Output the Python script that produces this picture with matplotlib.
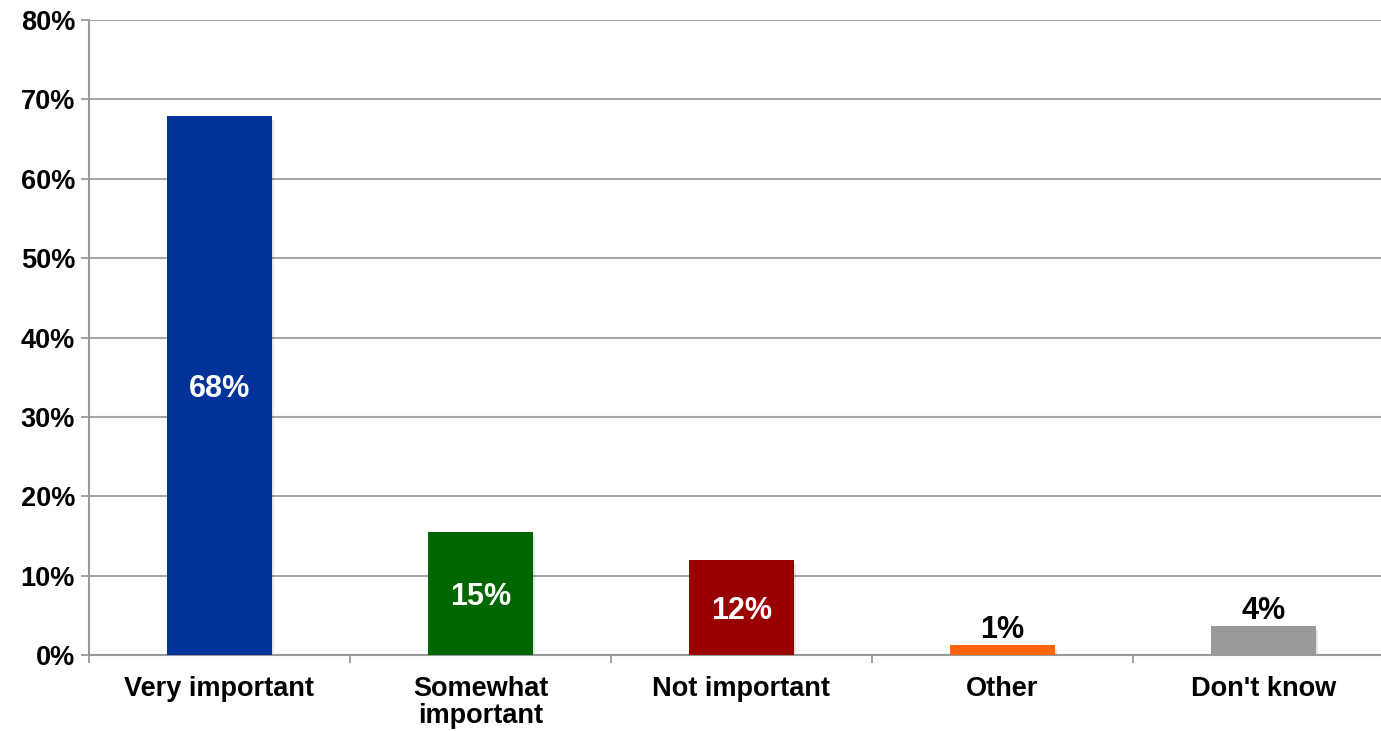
import matplotlib.pyplot as plt
import numpy as np

categories = ['Very important', 'Somewhat\nimportant', 'Not important', 'Other', "Don't know"]
values = [67.9, 15.5, 12.0, 1.25, 3.65]
labels = ['68%', '15%', '12%', '1%', '4%']
colors = ['#003399', '#006600', '#990000', '#FF6600', '#999999']
inside = [True, True, True, False, False]
yticks = [0, 10, 20, 30, 40, 50, 60, 70, 80]

plt.rcParams['font.family'] = ['Liberation Sans', 'DejaVu Sans']
plt.rcParams['font.weight'] = 'bold'

fig = plt.figure(figsize=(13.81, 7.31), dpi=100)
ax = fig.add_axes([0.0644, 0.104, 0.945, 0.8686])

x = np.arange(len(categories))
# faint shadow behind each bar
ax.bar(x + 0.01, np.array(values) - 0.25, bottom=-0.25, width=0.4,
       color='#000000', alpha=0.1, zorder=2)
ax.bar(x, values, width=0.4, color=colors, zorder=3)

for xi, v, lab, ins in zip(x, values, labels, inside):
    if ins:
        ax.text(xi, v / 2 - 0.5, lab, ha='center', va='center', color='white',
                fontsize=22, fontweight='bold', zorder=4)
    else:
        ax.text(xi, v, lab, ha='center', va='bottom', color='black',
                fontsize=22, fontweight='bold', zorder=4)

ax.set_xlim(-0.5, len(categories) - 0.5)
ax.set_ylim(0, 80)
ax.set_yticks(yticks)
ax.set_yticklabels([f'{t}%' for t in yticks], fontsize=19.5, fontweight='bold')
ax.set_xticks(x)
ax.set_xticklabels(categories, fontsize=19.5, fontweight='bold', va='top',
                   linespacing=1.05)
ax.set_xticks(np.arange(len(categories) + 1) - 0.5, minor=True)
ax.tick_params(axis='x', which='major', length=0, pad=15)
ax.tick_params(axis='x', which='minor', length=6, width=1.3, color='#999999', direction='out')
ax.tick_params(axis='y', length=6, width=1.3, color='#999999', direction='out', pad=4)

ax.grid(axis='y', color='#A6A6A6', linewidth=1.5, zorder=0)
ax.set_axisbelow(True)
for side in ['top', 'right']:
    ax.spines[side].set_visible(False)
for side in ['left', 'bottom']:
    ax.spines[side].set_color('#999999')
    ax.spines[side].set_linewidth(1.5)

plt.savefig('out.png', dpi=100)
